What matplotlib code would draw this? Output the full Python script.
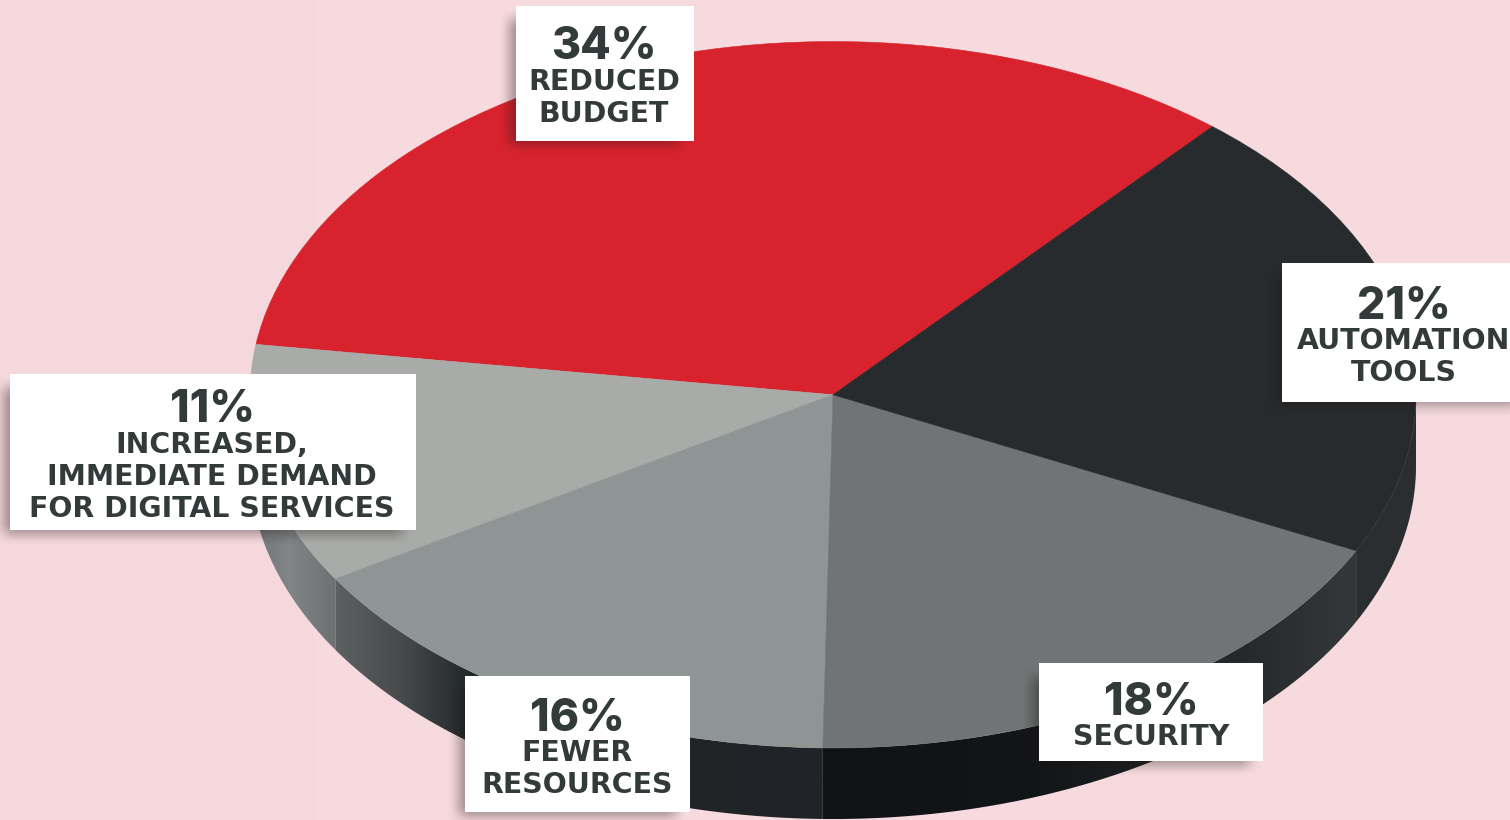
import numpy as np
import matplotlib
matplotlib.use('Agg')
import matplotlib.pyplot as plt
from matplotlib.colors import to_rgb
from matplotlib.patches import Polygon, Rectangle

plt.rcParams['font.family'] = ['DejaVu Sans']

# slices, counterclockwise from the red one
values = [34, 11, 16, 18, 21]
names = ['REDUCED\nBUDGET',
         'INCREASED,\nIMMEDIATE DEMAND\nFOR DIGITAL SERVICES',
         'FEWER\nRESOURCES',
         'SECURITY',
         'AUTOMATION\nTOOLS']
top_colors = ['#D8232E', '#A9ABA8', '#8F9494', '#707474', '#272B2D']

W, H = 1510, 820
CX, CY = 833, 395
RX, RY = 583, 353
DEPTH = 71
START = 49.4
TEXT = '#333A3A'
BG = '#F6DADD'

# side wall shading: (pixel x, colour) stops for each slice
wall_stops = [
    ([0, W], ['#272B2D', '#272B2D']),
    ([250, 290, 338], ['#6F7577', '#828587', '#6D7071']),
    ([338, 400, 425, 470, 828], ['#5C6061', '#484A4B', '#3B3E40', '#22272A', '#202327']),
    ([828, 1040, 1250, 1355], ['#101315', '#131618', '#262A2C', '#34383B']),
    ([1355, 1417], ['#2A2E30', '#2A2E30']),
]

# label boxes: left, top, right, bottom
boxes = [(516, 6, 694, 141), (10, 374, 416, 530), (465, 676, 690, 812),
         (1039, 663, 1263, 761), (1282, 263, 1530, 402)]
text_x = [604, 212, 577, 1151, 1404]
pct_base = [59, 422, 731, 715, 319]
line_base = [[90, 122], [453, 485, 517], [761, 793], [745], [349, 381]]


def add_walls(ax, wedges):
    for wedge, (xs, cols) in zip(wedges, wall_stops):
        a1, a2 = wedge.theta1 % 360, wedge.theta2 % 360
        if a2 < a1:
            a2 = 360
        a1 = max(a1, 180)
        if a2 <= a1:
            continue
        ang = np.radians(np.linspace(a1, a2, 200))
        x, y = np.cos(ang), np.sin(ang)
        d = DEPTH / RY
        outline = np.column_stack([np.r_[x, x[::-1]], np.r_[y, y[::-1] - d]])

        # horizontal gradient, cut to the shape of the wall
        px = np.arange(np.floor(CX + RX * x.min()), np.ceil(CX + RX * x.max()) + 1)
        rgb = np.array([to_rgb(c) for c in cols])
        grad = np.stack([np.interp(px, xs, rgb[:, k]) for k in range(3)], axis=-1)[None, :, :]
        extent = ((px[0] - CX) / RX, (px[-1] - CX) / RX, y.min() - d, y.max())
        im = ax.imshow(grad, extent=extent, aspect='auto', zorder=1, interpolation='bilinear')
        im.set_clip_path(Polygon(outline, closed=True, transform=ax.transData))


def shadow_layer(rects):
    xx, yy = np.meshgrid(np.arange(W) + 0.5, np.arange(H) + 0.5)
    alpha = np.zeros((H, W))
    for l, t, r, b in rects:
        # soft edges, box shifted left and down
        l, r, t, b = l - 6, r - 14, t + 14, b + 4
        fx = np.clip((xx - l + 12) / 24, 0, 1) * np.clip((r + 12 - xx) / 24, 0, 1)
        fy = np.clip((yy - t + 12) / 24, 0, 1) * np.clip((b + 12 - yy) / 24, 0, 1)
        alpha = np.maximum(alpha, fx * fx * (3 - 2 * fx) * fy * fy * (3 - 2 * fy))
    img = np.zeros((H, W, 4))
    img[..., :3] = (0.12, 0.08, 0.08)
    img[..., 3] = alpha * 0.42
    return img


fig = plt.figure(figsize=(W / 100, (H + 0.5) / 100), dpi=100, facecolor=BG)
fig.add_artist(Rectangle((0, 0), 315 / W, 1, transform=fig.transFigure,
                         facecolor='#F5D8DB', edgecolor='none', zorder=-1))

# pie stretched into an ellipse by the axes limits
ax = fig.add_axes([0, 0, 1, 1])
ax.patch.set_alpha(0)
wedges, _ = ax.pie(values, colors=top_colors, startangle=START, counterclock=True,
                   radius=1, normalize=True,
                   wedgeprops=dict(linewidth=0.4, zorder=2))
for w, c in zip(wedges, top_colors):
    w.set_edgecolor(c)
add_walls(ax, wedges)
ax.set_aspect('auto')
ax.set_xlim(-CX / RX, (W - CX) / RX)
ax.set_ylim(-(H - CY) / RY, CY / RY)
ax.axis('off')

# labels go on a second axes in pixel units
lab = fig.add_axes([0, 0, 1, 1], zorder=3)
lab.patch.set_alpha(0)
lab.imshow(shadow_layer(boxes), extent=(0, W, H, 0), aspect='auto', zorder=1,
           interpolation='nearest')
lab.set_xlim(0, W)
lab.set_ylim(H, 0)
lab.axis('off')

for i, (l, t, r, b) in enumerate(boxes):
    lab.add_patch(Rectangle((l, t), r - l, b - t, facecolor='white', edgecolor='none', zorder=2))
    lab.text(text_x[i], pct_base[i], f'{values[i]}%', ha='center', va='baseline',
             family='Inter', fontsize=32, fontweight=800, color=TEXT, zorder=3, clip_on=True)
    for line, y in zip(names[i].split('\n'), line_base[i]):
        lab.text(text_x[i], y, line, ha='center', va='baseline', fontsize=20.4,
                 fontweight='bold', color=TEXT, zorder=3, clip_on=True)

fig.savefig('out.png', dpi=100)
